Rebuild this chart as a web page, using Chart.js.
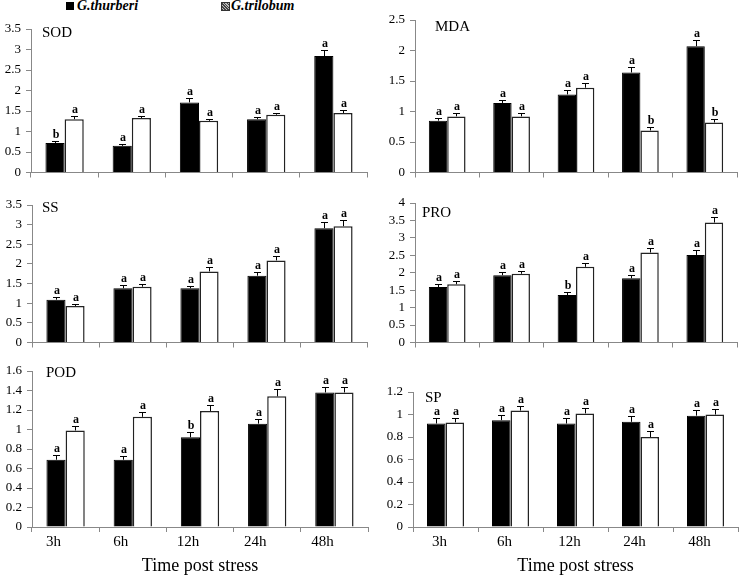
<!DOCTYPE html>
<html>
<head>
<meta charset="utf-8">
<script src="https://cdn.jsdelivr.net/npm/chart.js@4"></script>
<style>
  body { margin: 0; background: #fff; }
  #wrap { position: relative; width: 740px; height: 577px; overflow: hidden; }
  canvas { position: absolute; }
  .leg { position: absolute; top: -2px; font: bold italic 14px "Liberation Serif", serif; }
  .sw { position: absolute; top: 2px; width: 8px; height: 8px; }
</style>
</head>
<body>
<div id="wrap">
  <div class="sw" style="left:66px;background:#000"></div>
  <div class="leg" style="left:77px">G.thurberi</div>
  <div class="sw" style="left:221px;border:1px solid #333;width:7px;height:7px;background:repeating-linear-gradient(45deg,#444 0 1px,#bbb 1px 2px)"></div>
  <div class="leg" style="left:231px">G.trilobum</div>
</div>
<script>
const hours = ["3h", "6h", "12h", "24h", "48h"];

// SOD
const sodThurberi = [0.72, 0.65, 1.71, 1.30, 2.84];
const sodThurberiErr = [0.04, 0.04, 0.10, 0.06, 0.15];
const sodTrilobum = [1.30, 1.33, 1.26, 1.41, 1.45];
const sodTrilobumErr = [0.07, 0.05, 0.05, 0.05, 0.08];
const sodLettersT = ["b", "a", "a", "a", "a"];
const sodLettersL = ["a", "a", "a", "a", "a"];

// MDA
const mdaThurberi = [0.85, 1.14, 1.28, 1.64, 2.07];
const mdaThurberiErr = [0.05, 0.05, 0.08, 0.09, 0.11];
const mdaTrilobum = [0.92, 0.92, 1.39, 0.69, 0.82];
const mdaTrilobumErr = [0.05, 0.05, 0.07, 0.05, 0.05];
const mdaLettersT = ["a", "a", "a", "a", "a"];
const mdaLettersL = ["a", "a", "a", "b", "b"];

// SS
const ssThurberi = [1.09, 1.38, 1.38, 1.70, 2.91];
const ssThurberiErr = [0.07, 0.09, 0.07, 0.10, 0.17];
const ssTrilobum = [0.93, 1.42, 1.81, 2.09, 2.96];
const ssTrilobumErr = [0.04, 0.06, 0.10, 0.10, 0.16];
const ssLettersT = ["a", "a", "a", "a", "a"];
const ssLettersL = ["a", "a", "a", "a", "a"];

// PRO
const proThurberi = [1.59, 1.93, 1.36, 1.84, 2.51];
const proThurberiErr = [0.10, 0.10, 0.08, 0.10, 0.14];
const proTrilobum = [1.67, 1.97, 2.17, 2.58, 3.44];
const proTrilobumErr = [0.08, 0.09, 0.10, 0.12, 0.15];
const proLettersT = ["a", "a", "b", "a", "a"];
const proLettersL = ["a", "a", "a", "a", "a"];

// POD
const podThurberi = [0.69, 0.69, 0.92, 1.06, 1.38];
const podThurberiErr = [0.05, 0.04, 0.05, 0.05, 0.06];
const podTrilobum = [0.99, 1.13, 1.19, 1.34, 1.38];
const podTrilobumErr = [0.05, 0.05, 0.06, 0.08, 0.06];
const podLettersT = ["a", "a", "b", "a", "a"];
const podLettersL = ["a", "a", "a", "a", "a"];

// SP
const spThurberi = [0.92, 0.95, 0.92, 0.935, 0.99];
const spThurberiErr = [0.045, 0.05, 0.05, 0.05, 0.05];
const spTrilobum = [0.93, 1.035, 1.01, 0.80, 1.00];
const spTrilobumErr = [0.04, 0.045, 0.05, 0.05, 0.05];
const spLettersT = ["a", "a", "a", "a", "a"];
const spLettersL = ["a", "a", "a", "a", "a"];

const panels = [
  { name: "SOD", t: sodThurberi, te: sodThurberiErr, l: sodTrilobum, le: sodTrilobumErr, lt: sodLettersT, ll: sodLettersL,
    max: 3.5, step: 0.5, box: [0, 16, 370, 168], area: [31, 29, 367, 175], dx: 11, dy: 4, labels: false, lo: 0 },
  { name: "MDA", t: mdaThurberi, te: mdaThurberiErr, l: mdaTrilobum, le: mdaTrilobumErr, lt: mdaLettersT, ll: mdaLettersL,
    max: 2.5, step: 0.5, box: [370, 8, 370, 176], area: [415, 20, 737, 176], dx: 20, dy: 7, labels: false, lo: 0 },
  { name: "SS", t: ssThurberi, te: ssThurberiErr, l: ssTrilobum, le: ssTrilobumErr, lt: ssLettersT, ll: ssLettersL,
    max: 3.5, step: 0.5, box: [0, 190, 370, 164], area: [32, 205, 367, 344], dx: 10, dy: 3, labels: false, lo: 0 },
  { name: "PRO", t: proThurberi, te: proThurberiErr, l: proTrilobum, le: proTrilobumErr, lt: proLettersT, ll: proLettersL,
    max: 4, step: 0.5, box: [370, 190, 370, 164], area: [415, 203, 737, 347], dx: 7, dy: 10, labels: false, lo: 0 },
  { name: "POD", t: podThurberi, te: podThurberiErr, l: podTrilobum, le: podTrilobumErr, lt: podLettersT, ll: podLettersL,
    max: 1.6, step: 0.2, box: [0, 358, 370, 219], area: [32, 371, 368, 527], dx: 14, dy: 2, labels: true, lo: -12 },
  { name: "SP", t: spThurberi, te: spThurberiErr, l: spTrilobum, le: spTrilobumErr, lt: spLettersT, ll: spLettersL,
    max: 1.2, step: 0.2, box: [370, 358, 370, 219], area: [413, 392, 738, 527], dx: 12, dy: 6, labels: true, lo: -6 }
];

const serif = "Liberation Serif";

const marks = {
  id: "marks",
  afterDatasetsDraw(chart, args, opts) {
    const ctx = chart.ctx;
    const y = chart.scales.y;
    ctx.save();
    ctx.strokeStyle = "#000";
    ctx.fillStyle = "#000";
    ctx.lineWidth = 1;
    chart.data.datasets.forEach((ds, i) => {
      chart.getDatasetMeta(i).data.forEach((bar, j) => {
        const top = Math.round(y.getPixelForValue(ds.data[j] + ds.err[j]));
        const x = Math.round(bar.x);
        ctx.beginPath();
        ctx.moveTo(x + 0.5, bar.y);
        ctx.lineTo(x + 0.5, top);
        ctx.moveTo(x - 3, top + 0.5);
        ctx.lineTo(x + 4, top + 0.5);
        ctx.stroke();
        ctx.font = "bold 12px '" + serif + "'";
        ctx.textAlign = "center";
        ctx.textBaseline = "bottom";
        ctx.fillText(ds.letters[j], x + 1, top);
      });
    });
    const a = chart.chartArea;
    ctx.font = "15px '" + serif + "'";
    ctx.textAlign = "left";
    ctx.textBaseline = "middle";
    ctx.fillText(opts.text, a.left + opts.dx, a.top + opts.dy);
    ctx.restore();
  }
};

const wrap = document.getElementById("wrap");

panels.forEach((p) => {
  const [bx, by, bw, bh] = p.box;
  const [al, at, ar, ab] = p.area;
  const cv = document.createElement("canvas");
  cv.width = bw;
  cv.height = bh;
  cv.style.left = bx + "px";
  cv.style.top = by + "px";
  wrap.appendChild(cv);

  new Chart(cv, {
    type: "bar",
    data: {
      labels: hours,
      datasets: [
        { label: "G.thurberi", data: p.t, err: p.te, letters: p.lt,
          backgroundColor: "#000", borderColor: "#000", borderWidth: 1 },
        { label: "G.trilobum", data: p.l, err: p.le, letters: p.ll,
          backgroundColor: "#fff", borderColor: "#222", borderWidth: 1.5 }
      ]
    },
    options: {
      responsive: false,
      animation: false,
      devicePixelRatio: 1,
      categoryPercentage: 0.57,
      barPercentage: 1,
      layout: { padding: { top: at - by, right: bx + bw - ar, left: 0, bottom: 0 } },
      plugins: {
        legend: { display: false },
        tooltip: { enabled: false },
        marks: { text: p.name, dx: p.dx, dy: p.dy }
      },
      scales: {
        x: {
          grid: { offset: true, drawOnChartArea: false, tickLength: 5, color: "#888" },
          border: { color: "#888" },
          ticks: { display: p.labels, color: "#000", font: { family: serif, size: 15 },
                   labelOffset: p.lo, padding: 1, maxRotation: 0 },
          title: { display: p.labels, text: "Time post stress", color: "#000",
                   font: { family: serif, size: 18 }, padding: 0 },
          afterFit: (s) => { s.height = by + bh - ab; }
        },
        y: {
          min: 0,
          max: p.max,
          ticks: { count: Math.round(p.max / p.step) + 1, color: "#000",
                   font: { family: serif, size: 13, lineHeight: 1 }, padding: 5,
                   autoSkip: false,
                   callback: (v) => String(Math.round(v * 10) / 10) },
          grid: { drawOnChartArea: false, tickLength: 5, color: "#888" },
          border: { color: "#888" },
          afterFit: (s) => { s.width = al - bx; }
        }
      }
    },
    plugins: [marks]
  });
});
</script>
</body>
</html>
